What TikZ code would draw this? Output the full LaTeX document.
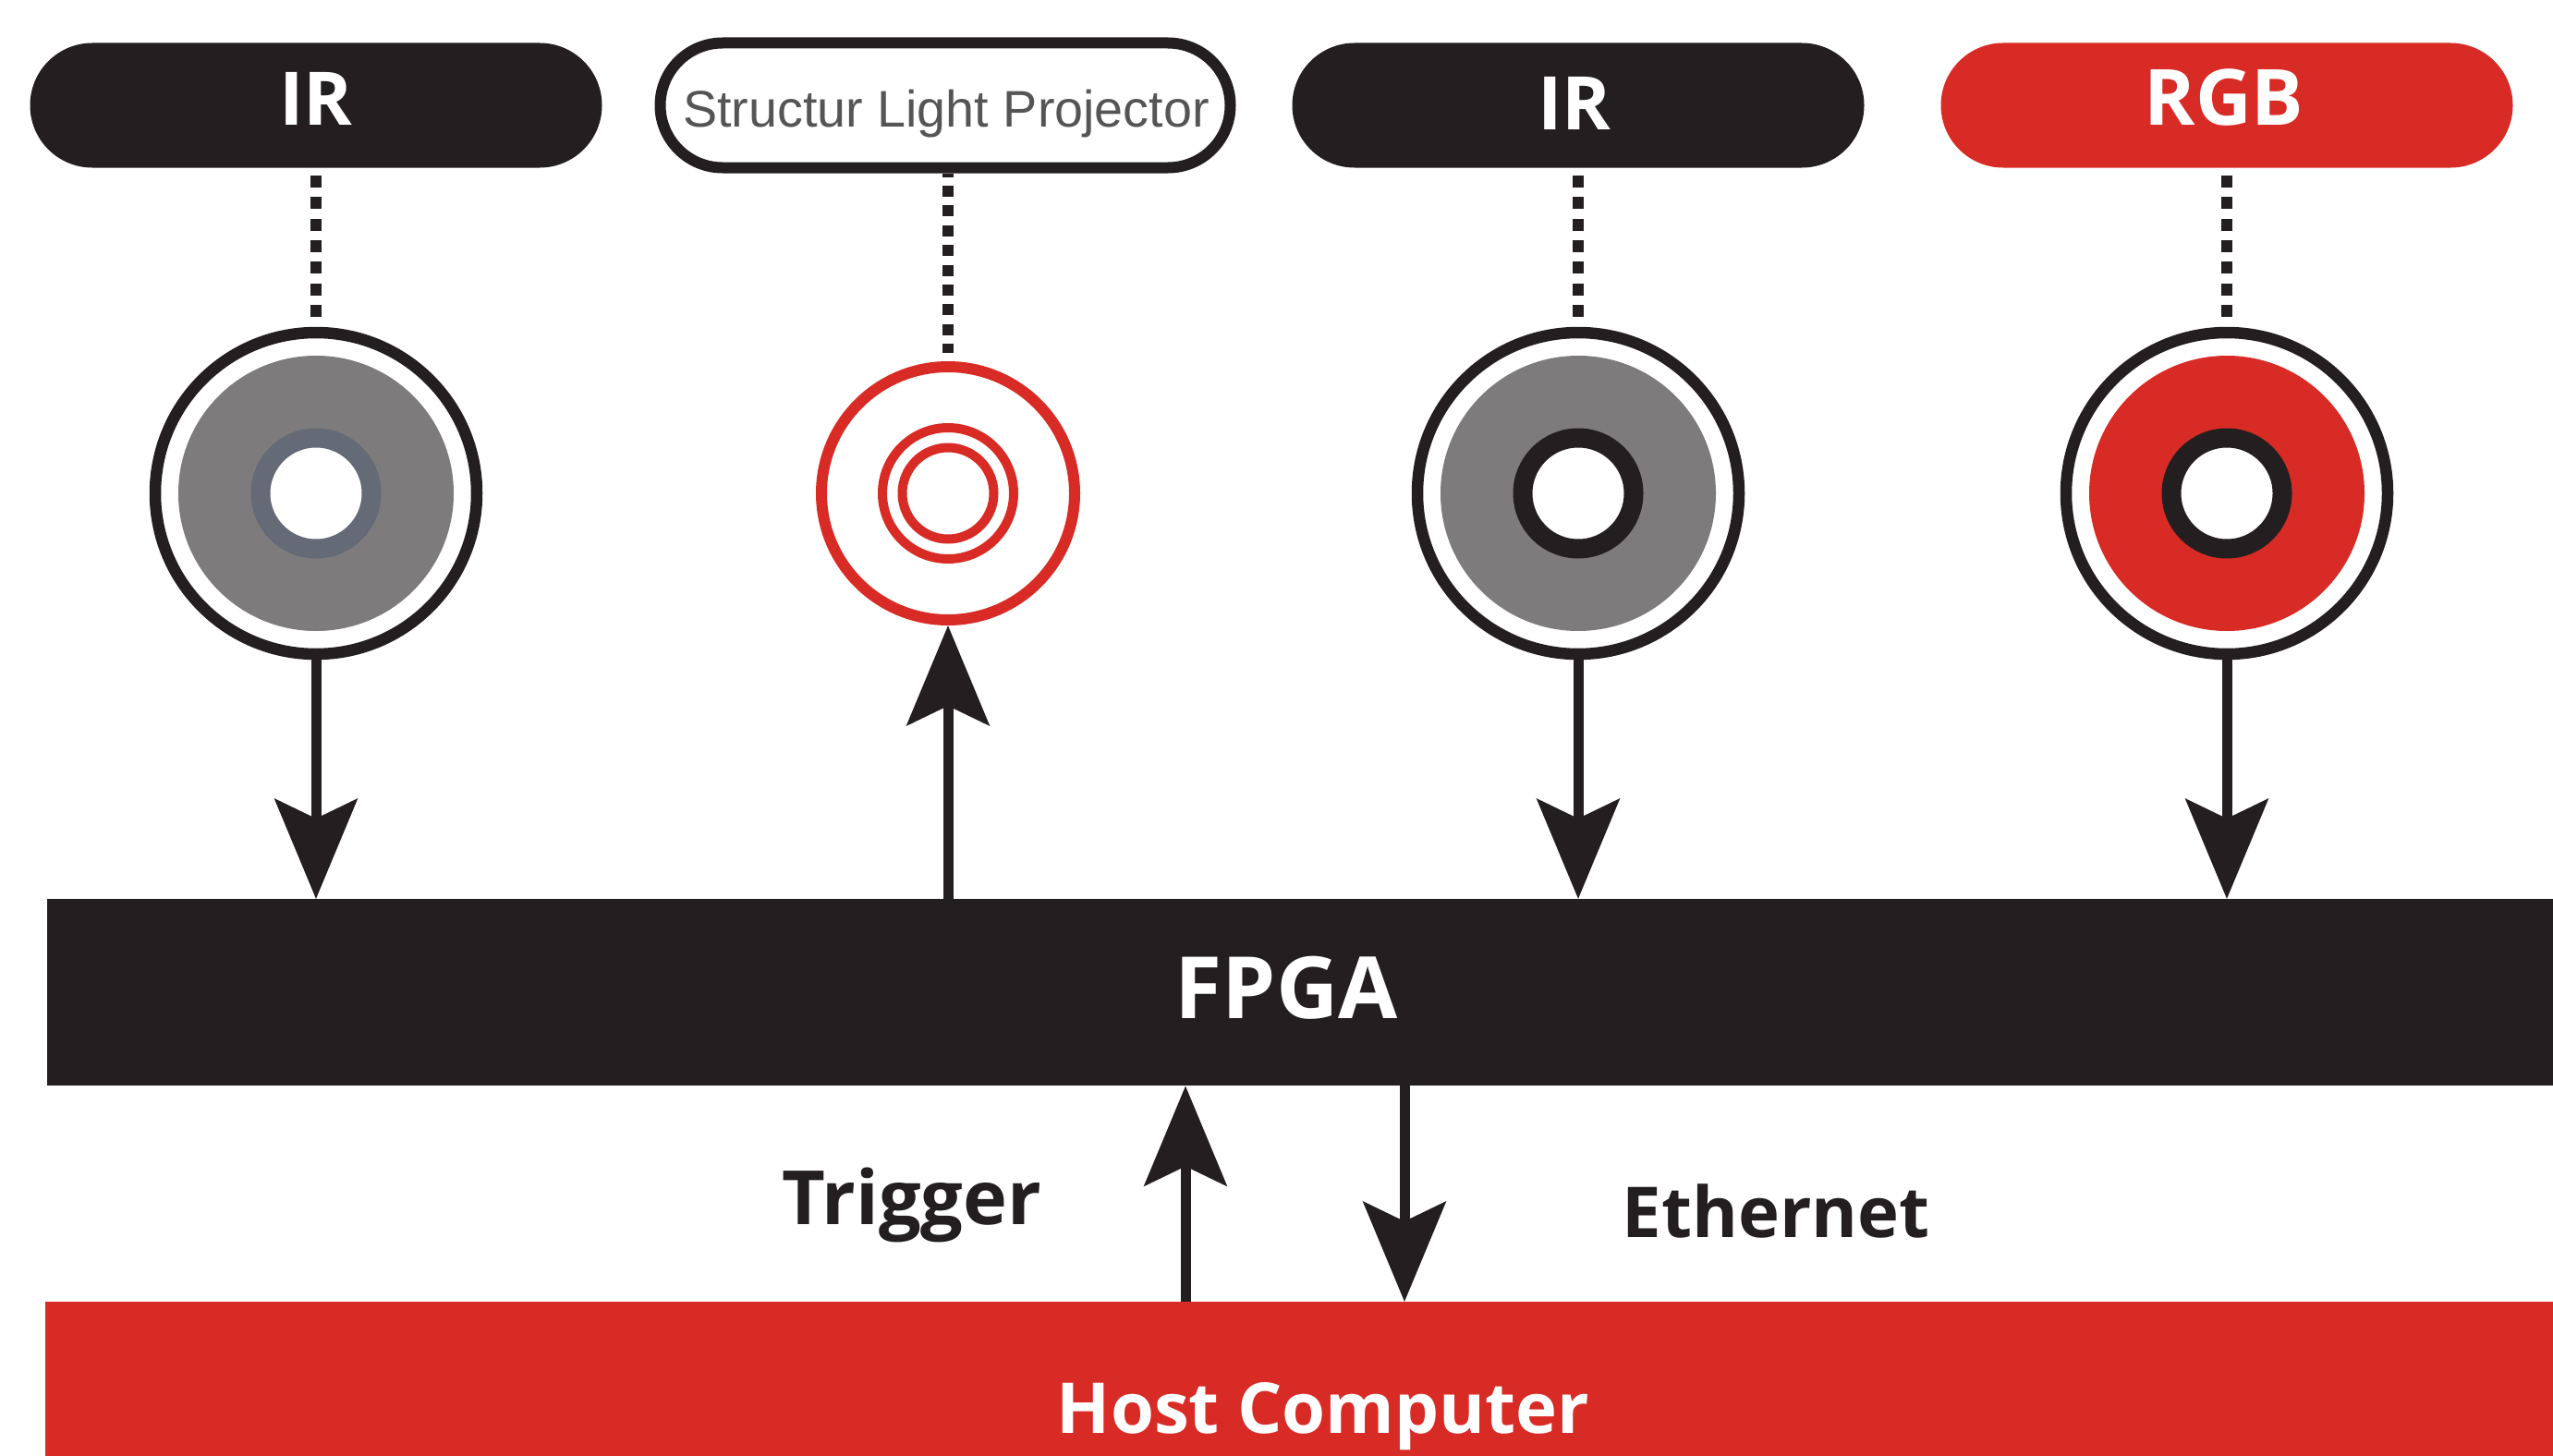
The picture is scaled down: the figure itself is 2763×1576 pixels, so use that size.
\documentclass[tikz,border=0pt]{standalone}
\usepackage{fontspec}
\setmainfont{Open Sans}
\newfontfamily\armfont{Liberation Sans}
\usetikzlibrary{positioning,arrows.meta,shapes.misc}
\definecolor{inkblack}{HTML}{231F20}
\definecolor{inkred}{HTML}{D92B25}
\definecolor{lensgrey}{HTML}{7D7B7C}
\definecolor{slategrey}{HTML}{646A76}
\definecolor{labelgrey}{HTML}{555555}
\newcommand{\capfont}[1]{\fontsize{#1}{#1}\selectfont\bfseries}
\tikzset{
  pill/.style={rounded rectangle, minimum width=619pt, minimum height=135pt, inner sep=0pt},
  lens/.style={circle, inner sep=0pt},
  sensor/.style={lens, draw=inkblack, line width=12.5pt, minimum size=348pt},
  bar/.style={rectangle, anchor=north west, inner sep=0pt},
  whitetext/.style={anchor=base, text=white, inner sep=0pt},
  darktext/.style={anchor=base, text=inkblack, inner sep=0pt},
  dots/.style={line width=12.5pt, draw=inkblack, dash pattern=on 13pt off 10.4pt},
  flow/.style={line width=11pt, draw=inkblack, -{Stealth[length=108pt, width=89pt, inset=21pt]}},
}
\begin{document}
\begin{tikzpicture}[x=1pt, y=-1pt, node distance=684pt, on grid]
\useasboundingbox (0,0) rectangle (2763,1576);
   \node[pill, fill=inkblack](pillA) at (342,114){};
   \node[pill, draw=inkblack, line width=12pt, fill=white, minimum width=617pt](pillB) [right=681pt of pillA]{};
   \node[pill, fill=inkblack](pillC) [right=685pt of pillB]{};
   \node[pill, fill=inkred](pillD) [right=702pt of pillC]{};
   \node[sensor](camA) [below=420pt of pillA]{};
   \node[lens, draw=inkred, line width=12pt, minimum size=274pt, xshift=3pt](proj) [below=420pt of pillB]{};
   \node[sensor](camC) [below=420pt of pillC]{};
   \node[sensor](camD) [below=420pt of pillD]{};
   \node[lens, fill=lensgrey, minimum size=298pt](discA) at (camA){};
   \node[lens, fill=lensgrey, minimum size=298pt](discC) at (camC){};
   \node[lens, fill=inkred, minimum size=298pt](discD) at (camD){};
   \node[lens, fill=white, draw=slategrey, line width=21pt, minimum size=120pt](holeA) at (camA){};
   \node[lens, fill=white, draw=inkblack, line width=21pt, minimum size=120pt](holeC) at (camC){};
   \node[lens, fill=white, draw=inkblack, line width=21pt, minimum size=120pt](holeD) at (camD){};
   \node[lens, draw=inkred, line width=10pt, minimum size=142pt](ringA) at (proj){};
   \node[lens, draw=inkred, line width=10pt, minimum size=99pt](ringB) at (proj){};
   \node[bar, fill=inkblack, minimum width=2712pt, minimum height=202pt](fpga) at (51,973){};
   \node[bar, fill=inkred, minimum width=2714pt, minimum height=167pt](host) at (49,1409){};
   \coordinate (trigfoot) at (1283,1409);
   \coordinate (ethtop) at (1520,1175);
   \node[whitetext, font=\capfont{80}](irAtext) at (342,136){IR};
   \node[whitetext, font=\capfont{80}](irCtext) at (1704,141){IR};
   \node[whitetext, font=\capfont{84}](rgbtext) at (2407,136){RGB};
   \node[anchor=base, inner sep=0pt, text=labelgrey, font=\armfont\fontsize{55.7}{55.7}\selectfont](projtext) at (1024,138){Structur Light Projector};
   \node[whitetext, font=\capfont{93}](fpgatext) at (1392,1102){FPGA};
   \node[whitetext, font=\capfont{76}](hosttext) at (1432,1551){Host Computer};
   \node[darktext, font=\capfont{81}](trigtext) at (987,1325){Trigger};
   \node[darktext, font=\capfont{76}](ethtext) at (1922,1339){Ethernet};
   \path[dots]([yshift=-8pt]pillA.south) -- ([yshift=11pt]camA.north);
   \path[dots, dash pattern=on 12pt off 9.4pt, dash phase=8pt](proj |- pillB.south) -- ([yshift=9.5pt]proj.north);
   \path[dots]([yshift=-8pt]pillC.south) -- ([yshift=11pt]camC.north);
   \path[dots]([yshift=-8pt]pillD.south) -- ([yshift=11pt]camD.north);
   \path[flow](camA.south) -- (camA |- fpga.north);
   \path[flow](proj |- fpga.north) -- (proj.south);
   \path[flow](camC.south) -- (camC |- fpga.north);
   \path[flow](camD.south) -- (camD |- fpga.north);
   \path[flow](trigfoot) -- (trigfoot |- fpga.south);
   \path[flow](ethtop) -- (ethtop |- host.north);
\end{tikzpicture}
\end{document}
